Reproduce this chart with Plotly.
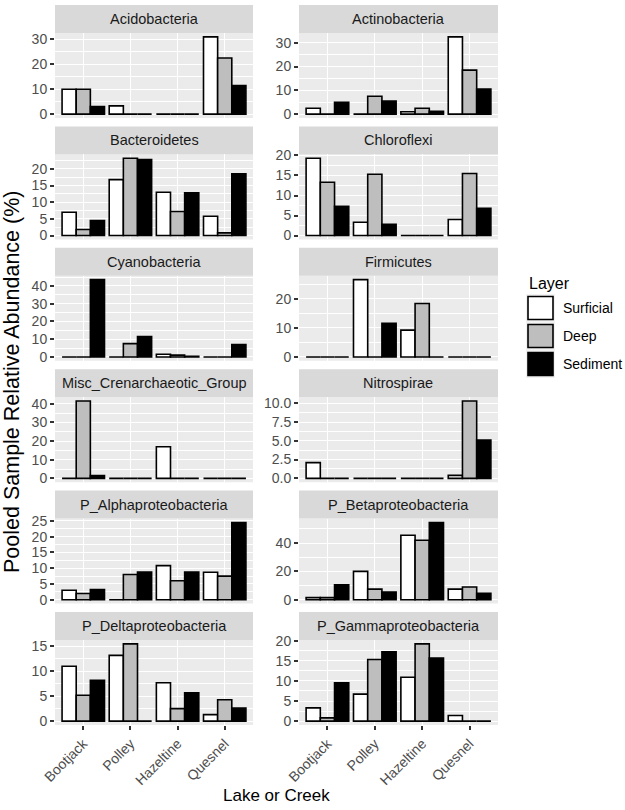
import plotly.graph_objects as go

# ---------------- data ----------------
lakes = ["Bootjack", "Polley", "Hazeltine", "Quesnel"]
layers = ["Surficial", "Deep", "Sediment"]
layer_colors = ["#FFFFFF", "#BEBEBE", "#000000"]

taxa = ["Acidobacteria", "Actinobacteria", "Bacteroidetes", "Chloroflexi",
        "Cyanobacteria", "Firmicutes", "Misc_Crenarchaeotic_Group", "Nitrospirae",
        "P_Alphaproteobacteria", "P_Betaproteobacteria",
        "P_Deltaproteobacteria", "P_Gammaproteobacteria"]

# values per layer, ordered Bootjack, Polley, Hazeltine, Quesnel
acidobacteria = [[10.0, 3.3, 0.0, 31.0], [10.0, 0.0, 0.0, 22.5], [3.0, 0.0, 0.0, 11.5]]
actinobacteria = [[2.5, 0.0, 1.0, 32.5], [0.0, 7.5, 2.5, 18.5], [5.0, 5.5, 1.2, 10.5]]
bacteroidetes = [[7.0, 16.8, 13.0, 5.8], [1.8, 23.2, 7.2, 0.8], [4.5, 22.8, 12.8, 18.5]]
chloroflexi = [[19.3, 3.3, 0.0, 4.0], [13.3, 15.3, 0.0, 15.5], [7.3, 2.8, 0.0, 6.8]]
cyanobacteria = [[0.0, 0.0, 1.5, 0.0], [0.0, 7.5, 1.0, 0.0], [43.5, 11.5, 0.3, 7.0]]
firmicutes = [[0.0, 26.5, 9.2, 0.0], [0.0, 0.0, 18.3, 0.0], [0.0, 11.5, 0.0, 0.0]]
misc_crenarchaeotic = [[0.0, 0.0, 17.0, 0.0], [41.5, 0.0, 0.0, 0.0], [1.5, 0.0, 0.0, 0.0]]
nitrospirae = [[2.1, 0.0, 0.0, 0.4], [0.0, 0.0, 0.0, 10.3], [0.0, 0.0, 0.0, 5.1]]
alphaproteobacteria = [[3.0, 0.0, 10.8, 8.7], [2.0, 8.0, 6.0, 7.5], [3.2, 8.8, 8.8, 24.5]]
betaproteobacteria = [[1.5, 20.0, 45.5, 7.5], [1.5, 7.5, 42.0, 9.0], [10.5, 5.5, 54.5, 4.5]]
deltaproteobacteria = [[11.0, 13.2, 7.7, 1.3], [5.2, 15.5, 2.5, 4.3], [8.2, 0.0, 5.7, 2.6]]
gammaproteobacteria = [[3.3, 6.7, 10.9, 1.4], [0.8, 15.3, 19.2, 0.0], [9.5, 17.2, 15.7, 0.0]]

panel_values = [acidobacteria, actinobacteria, bacteroidetes, chloroflexi,
                cyanobacteria, firmicutes, misc_crenarchaeotic, nitrospirae,
                alphaproteobacteria, betaproteobacteria,
                deltaproteobacteria, gammaproteobacteria]
y_dticks = [10, 10, 5, 5, 10, 10, 10, 2.5, 5, 20, 5, 5]

# ---------------- layout geometry (px) ----------------
W, H = 625, 810
col_x = [(55, 253), (299, 498)]
row_top0, row_step, strip_h, plot_h = 5, 121.4, 28, 85


def px(x):
    return x / W


def py(y):
    return 1 - y / H


fig = go.Figure()
shapes, annotations = [], []
TICK_COL = "#4D4D4D"
FONT = "Liberation Sans, Arial"

for i, (name, vals) in enumerate(zip(taxa, panel_values)):
    r, c = divmod(i, 2)
    suffix = "" if i == 0 else str(i + 1)
    xa, ya = "x" + suffix, "y" + suffix
    top = row_top0 + r * row_step
    ptop, pbot = top + strip_h, top + strip_h + plot_h
    x0, x1 = col_x[c]

    for lname, col, v in zip(layers, layer_colors, vals):
        fig.add_trace(go.Bar(
            x=lakes, y=v, name=lname, xaxis=xa, yaxis=ya,
            marker=dict(color=col, line=dict(color="black", width=1.6)),
            showlegend=False, offsetgroup=lname,
        ))

    M = max(max(v) for v in vals)
    dt = y_dticks[i]
    bottom_row = r == 5
    fig.layout["xaxis" + suffix] = dict(
        domain=[px(x0), px(x1)], anchor=ya, automargin=False,
        type="category", categoryorder="array", categoryarray=lakes,
        range=[-0.6, 3.6],
        showgrid=True, gridcolor="white", gridwidth=1.3,
        showline=False, zeroline=False,
        showticklabels=bottom_row,
        ticks="outside" if bottom_row else "",
        ticklen=4, tickwidth=1.5, tickcolor="#333333",
        tickangle=-45,
        tickfont=dict(family=FONT, size=14, color=TICK_COL),
    )
    fig.layout["yaxis" + suffix] = dict(
        domain=[py(pbot), py(ptop)], anchor=xa, automargin=False,
        range=[-0.05 * M, 1.05 * M],
        dtick=dt, tick0=0,
        tickformat=".1f" if dt == 2.5 else "d",
        showgrid=True, gridcolor="white", gridwidth=1.3,
        minor=dict(dtick=dt / 2, tick0=0, showgrid=True, gridcolor="white",
                   gridwidth=0.6, ticks=""),
        zeroline=False, showline=False,
        ticks="outside", ticklen=4, tickwidth=1.5, tickcolor="#333333",
        tickfont=dict(family=FONT, size=14, color=TICK_COL),
    )
    # panel background
    shapes.append(dict(type="rect", xref="paper", yref="paper", layer="below",
                       x0=px(x0), x1=px(x1), y0=py(pbot), y1=py(ptop),
                       fillcolor="#EBEBEB", line=dict(width=0)))
    # strip
    shapes.append(dict(type="rect", xref="paper", yref="paper", layer="below",
                       x0=px(x0), x1=px(x1), y0=py(ptop), y1=py(top),
                       fillcolor="#D9D9D9", line=dict(width=0)))
    annotations.append(dict(text=name, xref="paper", yref="paper",
                            x=px((x0 + x1) / 2), y=py(top + strip_h / 2),
                            showarrow=False, xanchor="center", yanchor="middle",
                            font=dict(family=FONT, size=14.5, color="#1A1A1A")))

# axis titles
annotations.append(dict(text="Pooled Sample Relative Abundance (%)", xref="paper",
                        yref="paper", x=px(12), y=py(382), textangle=-90,
                        showarrow=False, xanchor="center", yanchor="middle",
                        font=dict(family=FONT, size=21.5, color="black")))
annotations.append(dict(text="Lake or Creek", xref="paper", yref="paper",
                        x=px(276.5), y=py(795), showarrow=False,
                        xanchor="center", yanchor="middle",
                        font=dict(family=FONT, size=17, color="black")))

# legend (drawn manually, ggplot style)
annotations.append(dict(text="Layer", xref="paper", yref="paper", x=px(527), y=py(283),
                        showarrow=False, xanchor="left", yanchor="middle",
                        font=dict(family=FONT, size=16, color="black")))
for k, (lname, col) in enumerate(zip(layers, layer_colors)):
    cy = 308 + 28 * k
    shapes.append(dict(type="rect", xref="paper", yref="paper",
                       x0=px(526), x1=px(555), y0=py(cy + 14), y1=py(cy - 14),
                       fillcolor="#F2F2F2", line=dict(width=0)))
    shapes.append(dict(type="rect", xref="paper", yref="paper",
                       x0=px(528), x1=px(553), y0=py(cy + 11.5), y1=py(cy - 11.5),
                       fillcolor=col, line=dict(color="black", width=1.6)))
    annotations.append(dict(text=lname, xref="paper", yref="paper", x=px(561), y=py(cy),
                            showarrow=False, xanchor="left", yanchor="middle",
                            font=dict(family=FONT, size=14, color="black")))

fig.update_layout(
    width=W, height=H,
    margin=dict(l=0, r=0, t=0, b=0, autoexpand=False),
    paper_bgcolor="white", plot_bgcolor="rgba(0,0,0,0)",
    barmode="group", bargap=0.1, bargroupgap=0,
    showlegend=False,
    shapes=shapes, annotations=annotations,
    font=dict(family=FONT),
)

fig.write_html(
    "out.html",
    config={"displayModeBar": False},
    post_script="document.body.style.margin='0';document.body.style.overflow='hidden';",
)
